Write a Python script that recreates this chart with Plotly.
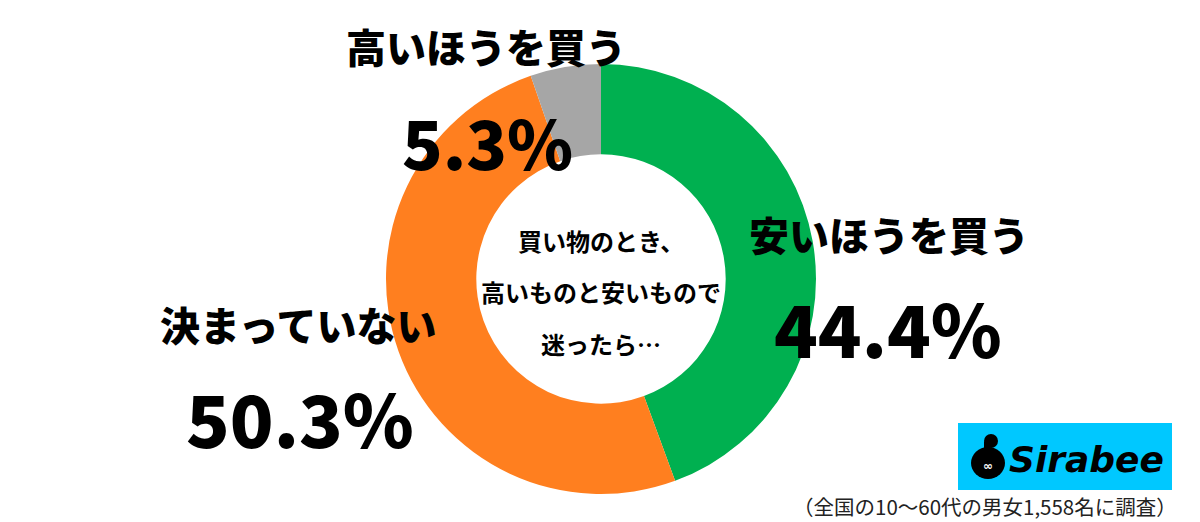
import plotly.graph_objects as go

labels = ["安いほうを買う", "決まっていない", "高いほうを買う"]
values = [44.4, 50.3, 5.3]
colors = ["#00B050", "#FF7F1F", "#A6A6A6"]
center_lines = ["買い物のとき、", "高いものと安いもので", "迷ったら…"]
note = "（全国の10〜60代の男女1,558名に調査）"

W, H = 1200, 522
FONT = "Noto Sans CJK JP"

def px(x):
    return x / W

def py(y):
    return 1 - y / H

fig = go.Figure(go.Pie(
    labels=labels, values=values, hole=0.58, sort=False, direction="clockwise",
    rotation=0, marker=dict(colors=colors, line=dict(width=0)),
    textinfo="none", hoverinfo="label+percent", showlegend=False,
    domain=dict(x=[px(386), px(816)], y=[py(494), py(64)]),
))

ann = []
def add(text, x, y, size, weight="bold", color="black", family=FONT):
    ann.append(dict(text=text, x=px(x), y=py(y), xref="paper", yref="paper",
                    showarrow=False, xanchor="center", yanchor="middle",
                    font=dict(family=family, size=size, color=color, weight=weight)))

pct = [f"{v:.1f}%" for v in values]
add(labels[2], 486, 46, 40, 900)
add(pct[2], 487, 140, 67, 900)
add(labels[0], 889, 234, 40, 900)
add(pct[0], 888, 326, 72, 900)
add(labels[1], 298, 324, 40, 900)
add(pct[1], 300, 416, 72, 900)
for t, y in zip(center_lines, [240, 291, 343]):
    add(t, 601, y, 24, 700)
add("<i>Sirabee</i>", 1086, 459, 36, 900, family="DejaVu Sans")
add("∞", 988, 466, 12, 700, color="white", family="DejaVu Sans")
ann.append(dict(text=note, x=px(1179), y=py(506), xref="paper", yref="paper",
                showarrow=False, xanchor="right", yanchor="middle",
                font=dict(family=FONT, size=20.5, color="#222")))

shapes = [
    dict(type="rect", xref="paper", yref="paper", x0=px(958), x1=px(1172),
         y0=py(490), y1=py(423), fillcolor="#00C8FF", line=dict(width=0), layer="below"),
    dict(type="circle", xref="paper", yref="paper", x0=px(971), x1=px(1005),
         y0=py(479), y1=py(447), fillcolor="black", line=dict(width=0)),
    dict(type="circle", xref="paper", yref="paper", x0=px(984), x1=px(998),
         y0=py(448), y1=py(434), fillcolor="black", line=dict(width=0)),
    dict(type="rect", xref="paper", yref="paper", x0=px(984), x1=px(990),
         y0=py(452), y1=py(442), fillcolor="black", line=dict(width=0)),
]

fig.update_layout(width=W, height=H, margin=dict(l=0, r=0, t=0, b=0),
                  paper_bgcolor="white", plot_bgcolor="white",
                  annotations=ann, shapes=shapes)
fig.write_html("out.html", config={"displayModeBar": False},
               post_script="document.body.style.margin='0px';")
